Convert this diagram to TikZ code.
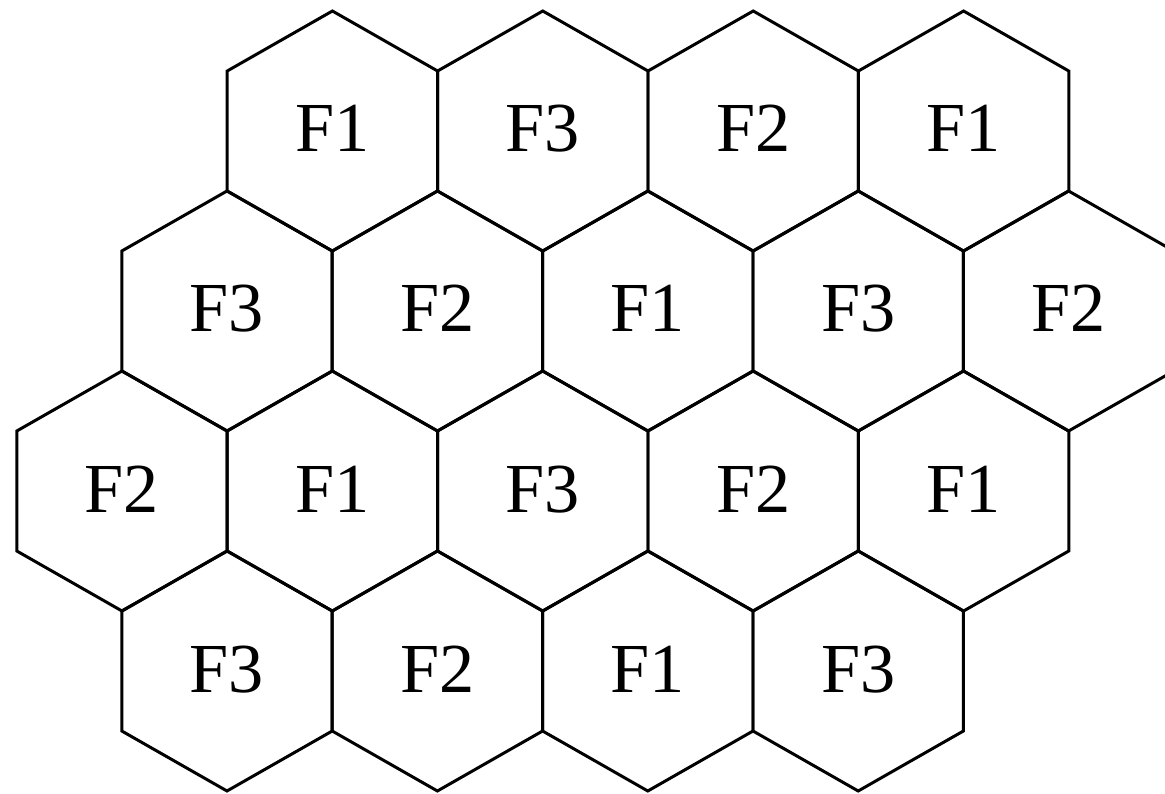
\documentclass[tikz,border=0pt]{standalone}
\usepackage{fontspec}
\setmainfont{Liberation Serif}

\begin{document}
\begin{tikzpicture}[
    celda/.style={line width=0.85pt, line join=miter},
    etiqueta/.style={font=\fontsize{20}{24}\selectfont, inner sep=0pt, anchor=base}
  ]
    % Marco de la figura
    \useasboundingbox (0,0) rectangle (11.65,7.93);
    \clip (0,0) rectangle (11.65,7.93);

    % Celdas hexagonales con su frecuencia
    \foreach \x/\y/\f [count=\i] in {
        3.324/6.62/F1, 5.428/6.62/F3, 7.532/6.62/F2, 9.636/6.62/F1,
        2.270/4.82/F3, 4.374/4.82/F2, 6.478/4.82/F1, 8.582/4.82/F3, 10.686/4.82/F2,
        1.220/3.02/F2, 3.324/3.02/F1, 5.428/3.02/F3, 7.532/3.02/F2, 9.636/3.02/F1,
        2.270/1.22/F3, 4.374/1.22/F2, 6.478/1.22/F1, 8.582/1.22/F3} {
      \draw[celda] (\x,\y) ++(0,1.2) -- ++(1.052,-0.6) -- ++(0,-1.2)
        -- ++(-1.052,-0.6) -- ++(-1.052,0.6) -- ++(0,1.2) -- cycle;
      \node[etiqueta] (f\i) at (\x,\y-0.21) {\f};
    }
\end{tikzpicture}
\end{document}
